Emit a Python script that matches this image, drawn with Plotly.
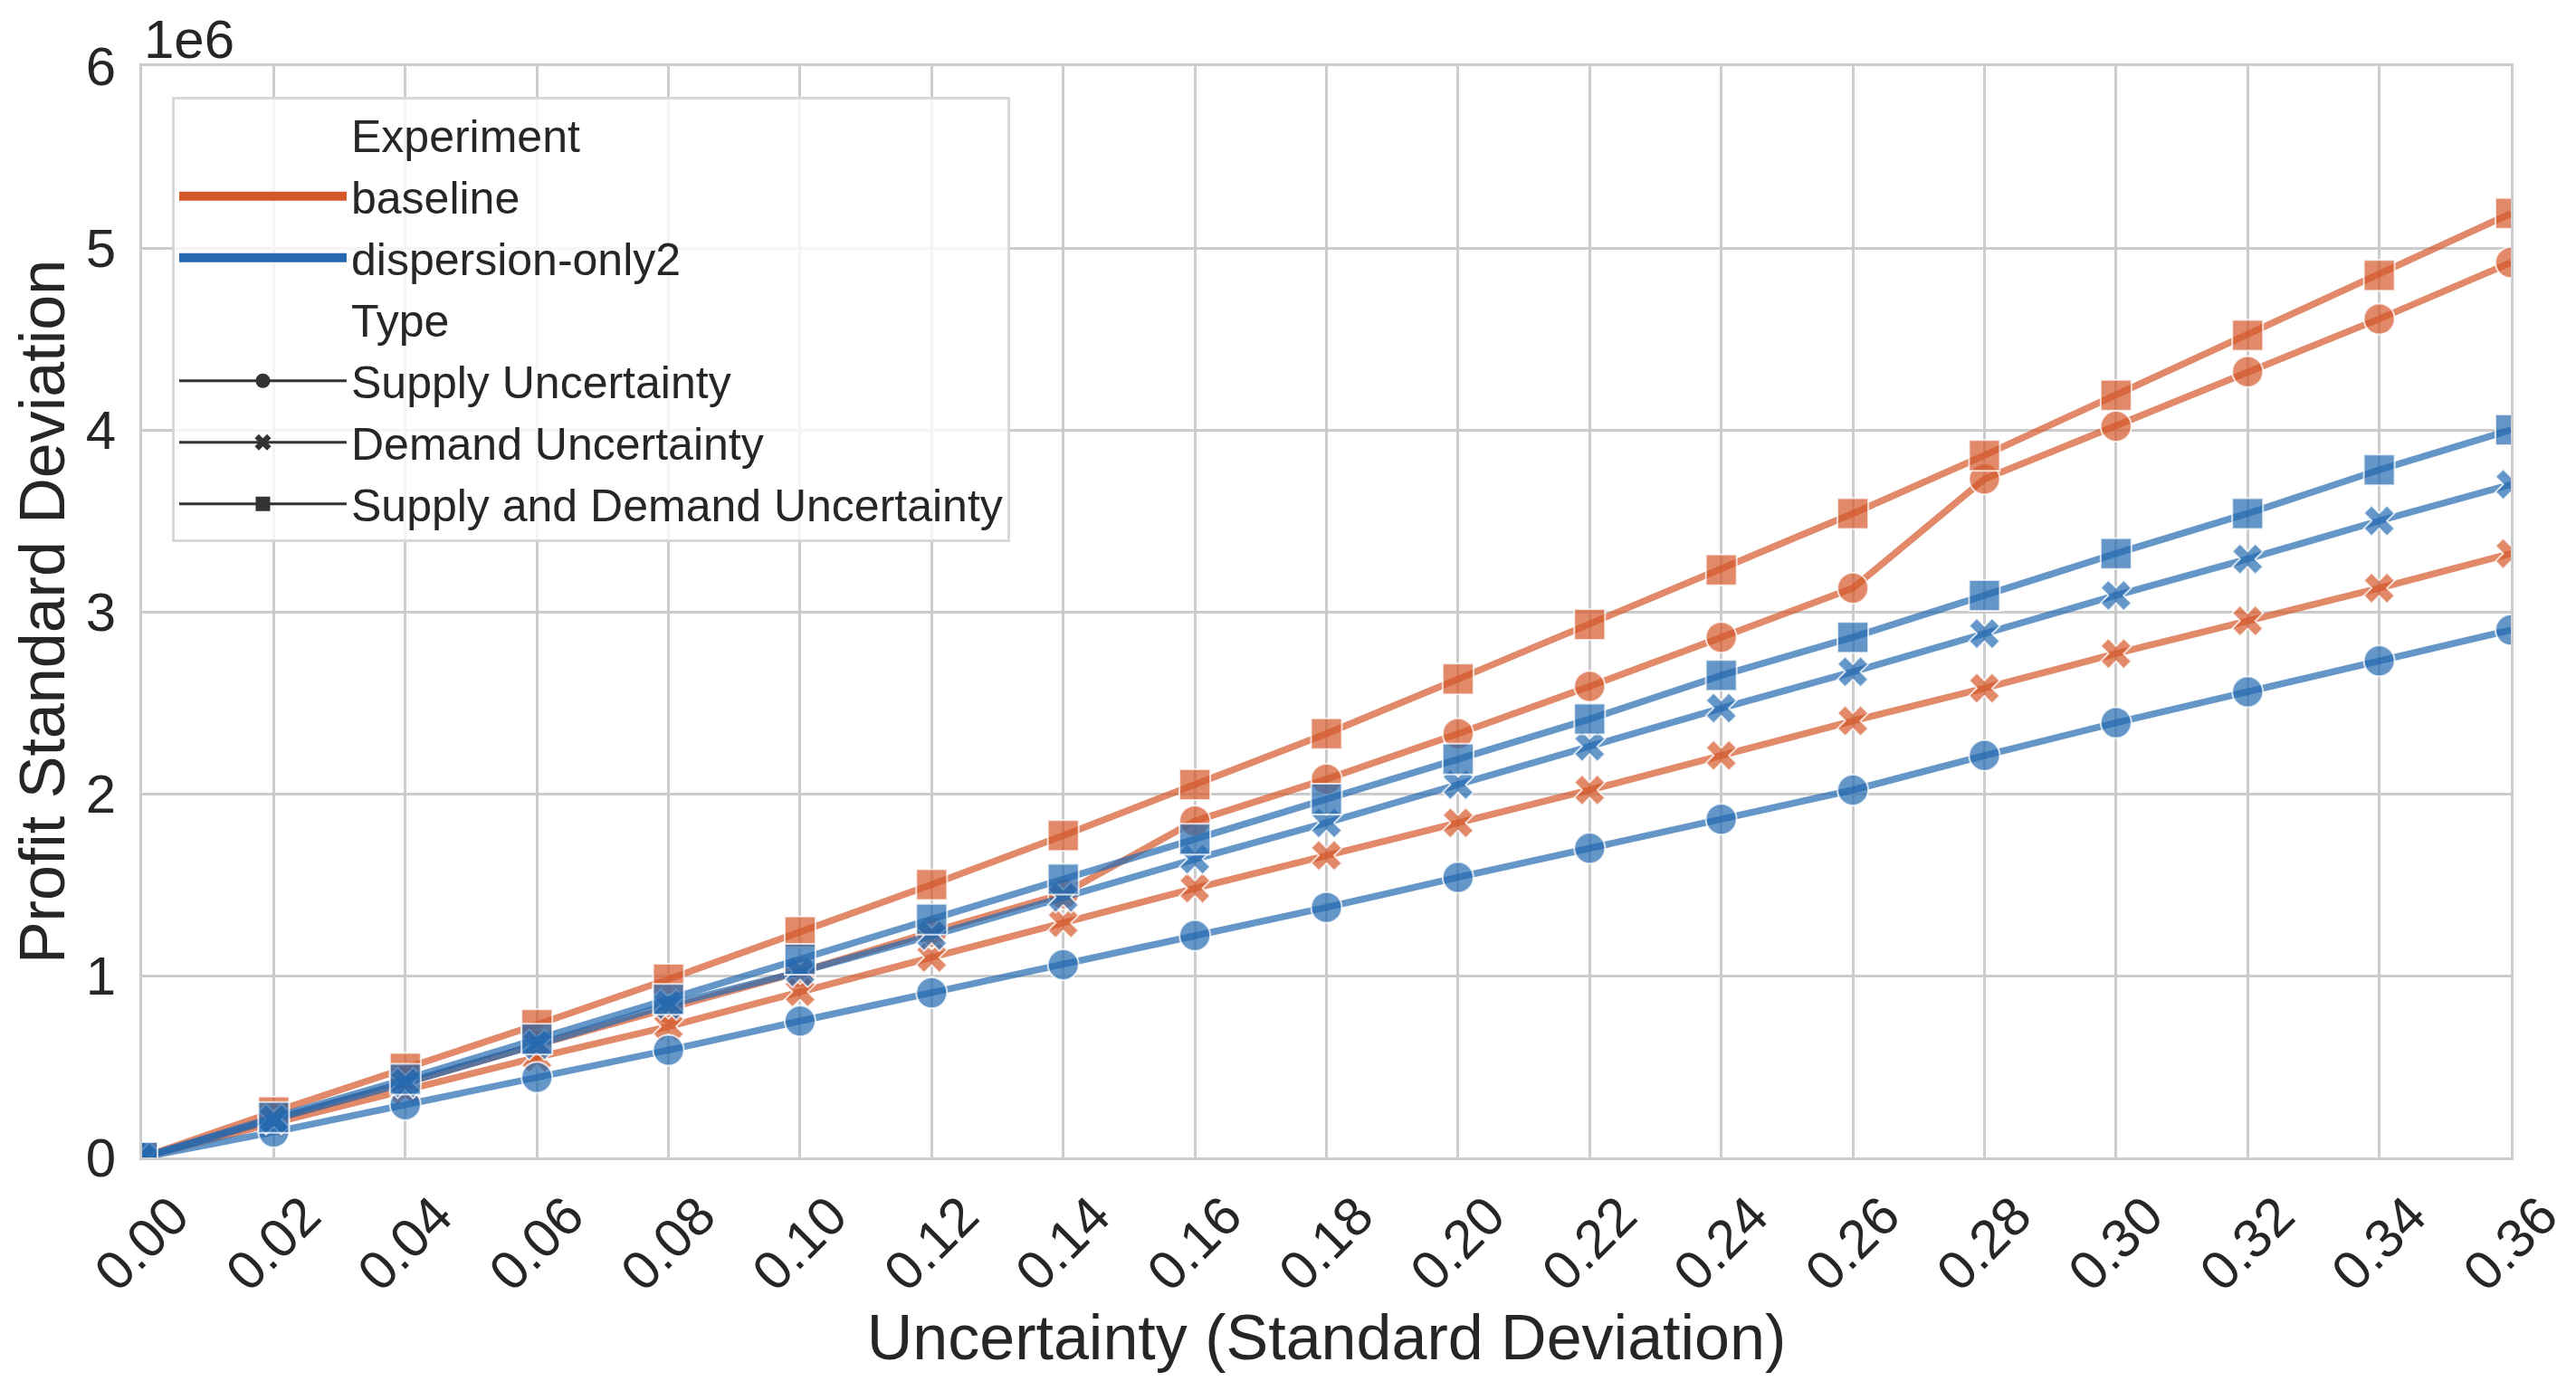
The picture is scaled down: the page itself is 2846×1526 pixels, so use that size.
import plotly.graph_objects as go

# uncertainty levels (x axis)
uncertainty = [0.00, 0.02, 0.04, 0.06, 0.08, 0.10, 0.12, 0.14, 0.16, 0.18,
               0.20, 0.22, 0.24, 0.26, 0.28, 0.30, 0.32, 0.34, 0.36]

experiments = ["baseline", "dispersion-only2"]
types = ["Supply Uncertainty", "Demand Uncertainty", "Supply and Demand Uncertainty"]

# profit standard deviation, in units of 1e6
baseline_supply = [0, 0.21, 0.41, 0.62, 0.82, 1.02, 1.24, 1.45, 1.85, 2.08,
                   2.33, 2.59, 2.86, 3.13, 3.73, 4.02, 4.32, 4.61, 4.92]
baseline_demand = [0, 0.19, 0.37, 0.55, 0.72, 0.91, 1.10, 1.29, 1.48, 1.66,
                   1.84, 2.02, 2.21, 2.40, 2.58, 2.77, 2.95, 3.13, 3.32]
baseline_both = [0, 0.25, 0.49, 0.73, 0.98, 1.24, 1.50, 1.77, 2.05, 2.33,
                 2.63, 2.93, 3.23, 3.54, 3.86, 4.19, 4.52, 4.85, 5.19]
dispersion_supply = [0, 0.14, 0.29, 0.44, 0.59, 0.75, 0.905, 1.06, 1.22, 1.375,
                     1.54, 1.70, 1.86, 2.02, 2.21, 2.39, 2.56, 2.73, 2.90]
dispersion_demand = [0, 0.21, 0.41, 0.62, 0.84, 1.02, 1.22, 1.43, 1.64, 1.84,
                     2.05, 2.26, 2.47, 2.67, 2.88, 3.09, 3.29, 3.50, 3.70]
dispersion_both = [0, 0.22, 0.43, 0.65, 0.87, 1.09, 1.31, 1.53, 1.75, 1.97,
                   2.19, 2.41, 2.65, 2.86, 3.09, 3.32, 3.54, 3.78, 4.00]

y_ticks = [0, 1, 2, 3, 4, 5, 6]

series = {
    "baseline": [baseline_supply, baseline_demand, baseline_both],
    "dispersion-only2": [dispersion_supply, dispersion_demand, dispersion_both],
}

rgb = {"baseline": (212, 87, 42), "dispersion-only2": (36, 105, 176)}
symbols = {"Supply Uncertainty": "circle", "Demand Uncertainty": "x",
           "Supply and Demand Uncertainty": "square"}
sizes = {"circle": 34, "x": 30, "square": 34}
alpha = 0.7
FONT = "Liberation Sans, Arial, sans-serif"
TXT = "#262626"

fig = go.Figure()

for exp in experiments:
    r, g, b = rgb[exp]
    col = f"rgba({r},{g},{b},{alpha})"
    for t, vals in zip(types, series[exp]):
        sym = symbols[t]
        fig.add_trace(go.Scatter(
            x=uncertainty, y=vals, mode="lines+markers",
            line=dict(color=col, width=7.5),
            marker=dict(symbol=sym, size=sizes[sym], color=col,
                        line=dict(color="rgba(255,255,255,0.75)", width=2)),
            showlegend=False, name=f"{exp} - {t}",
        ))

# legend entries, seaborn style (section titles without handles)
fig.add_trace(go.Scatter(x=[None], y=[None], mode="lines", name="Experiment",
                         line=dict(width=0, color="rgba(0,0,0,0)")))
for exp in experiments:
    r, g, b = rgb[exp]
    fig.add_trace(go.Scatter(x=[None], y=[None], mode="lines", name=exp,
                             line=dict(color=f"rgb({r},{g},{b})", width=10)))
fig.add_trace(go.Scatter(x=[None], y=[None], mode="lines", name="Type",
                         line=dict(width=0, color="rgba(0,0,0,0)")))
for t in types:
    fig.add_trace(go.Scatter(x=[None], y=[None], mode="lines+markers", name=t,
                             line=dict(color="#333333", width=3),
                             marker=dict(symbol=symbols[t], size=16, color="#333333")))

fig.add_annotation(text="1e6", xref="paper", yref="paper", x=0.0, y=1.0,
                   xanchor="left", yanchor="bottom", showarrow=False,
                   font=dict(size=60, color=TXT, family=FONT), yshift=-6)

fig.update_xaxes(
    range=[0, 0.36], tickvals=uncertainty,
    ticktext=[f"{v:.2f}" for v in uncertainty], tickangle=-45,
    ticklabelshift=34, ticklabelstandoff=2, ticklabeloverflow="allow",
    automargin="height",
    showgrid=True, gridcolor="#cccccc", gridwidth=3,
    showline=True, linecolor="#cccccc", linewidth=3, mirror=True,
    zeroline=False, ticks="",
    tickfont=dict(size=60, color=TXT, family=FONT),
    title=dict(text="Uncertainty (Standard Deviation)", standoff=6,
               font=dict(size=70, color=TXT, family=FONT)),
)
fig.update_yaxes(
    range=[0, 6], tickvals=y_ticks, ticktext=[str(v) for v in y_ticks],
    automargin=False,
    showgrid=True, gridcolor="#cccccc", gridwidth=3,
    showline=True, linecolor="#cccccc", linewidth=3, mirror=True,
    zeroline=False, ticks="", ticklabelstandoff=14,
    tickfont=dict(size=60, color=TXT, family=FONT),
    title=dict(text="Profit Standard Deviation", standoff=22,
               font=dict(size=70, color=TXT, family=FONT)),
)

fig.update_layout(
    width=2830, height=1510,
    margin=dict(l=149, r=64, t=65, b=239),
    paper_bgcolor="white", plot_bgcolor="white",
    font=dict(family=FONT, color=TXT),
    legend=dict(x=0.0126, y=0.972, xanchor="left", yanchor="top",
                bgcolor="rgba(255,255,255,0.8)", bordercolor="#d8d8d8", borderwidth=3,
                font=dict(size=50, color=TXT, family=FONT),
                itemwidth=185, tracegroupgap=0),
)

fig.write_html("out.html")
